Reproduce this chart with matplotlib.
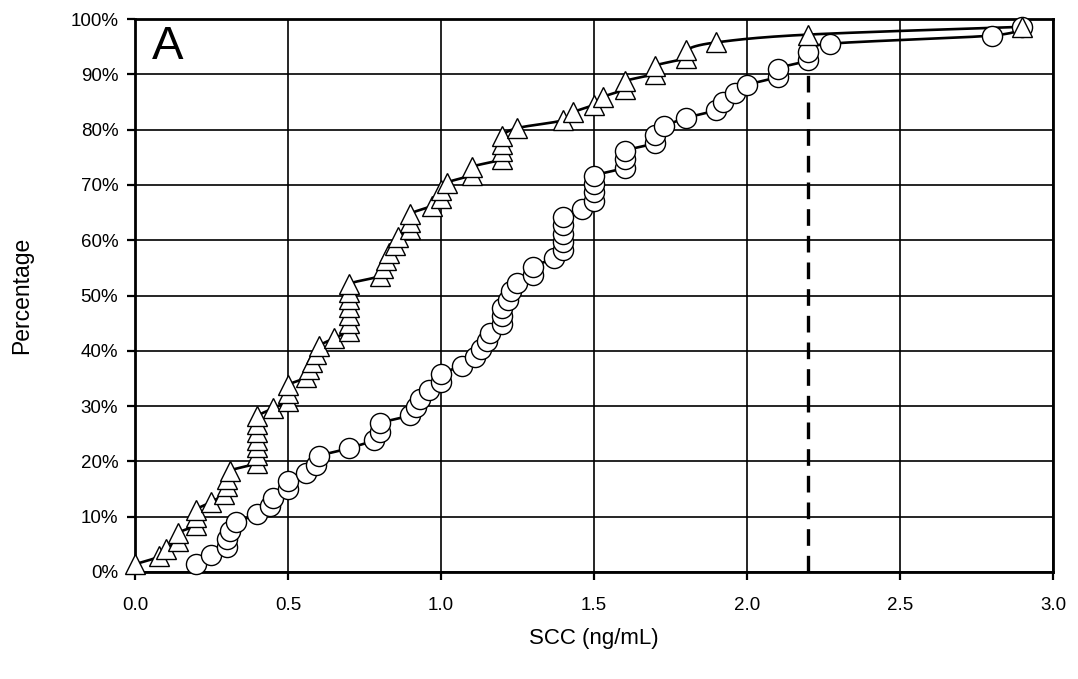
import numpy as np
import matplotlib
matplotlib.use("Agg")
import matplotlib.pyplot as plt
from matplotlib.ticker import FuncFormatter

plt.rcParams['font.family'] = ['Liberation Sans', 'DejaVu Sans']

# SCC values (ng/mL), sorted, for the two groups
tri_x = [0.00, 0.08, 0.10, 0.14, 0.14, 0.20, 0.20, 0.20, 0.25, 0.29, 0.30, 0.30, 0.31,
         0.40, 0.40, 0.40, 0.40, 0.40, 0.40, 0.40, 0.45, 0.50, 0.50, 0.50,
         0.56, 0.57, 0.58, 0.59, 0.60, 0.65, 0.70, 0.70, 0.70, 0.70, 0.70, 0.70, 0.70,
         0.80, 0.81, 0.82, 0.83, 0.85, 0.86, 0.90, 0.90, 0.90, 0.97, 1.00, 1.00, 1.02,
         1.10, 1.10, 1.20, 1.20, 1.20, 1.20, 1.25, 1.40, 1.43, 1.50, 1.53, 1.60, 1.60,
         1.70, 1.70, 1.80, 1.80, 1.90, 2.20, 2.90]
circ_x = [0.20, 0.25, 0.30, 0.30, 0.31, 0.33, 0.40, 0.44, 0.45, 0.50, 0.50, 0.56, 0.59,
          0.60, 0.70, 0.78, 0.80, 0.80, 0.90, 0.92, 0.93, 0.96, 1.00, 1.00, 1.07, 1.11,
          1.13, 1.15, 1.16, 1.20, 1.20, 1.20, 1.22, 1.23, 1.25, 1.30, 1.30, 1.37,
          1.40, 1.40, 1.40, 1.40, 1.40, 1.46, 1.50, 1.50, 1.50, 1.50, 1.60, 1.60, 1.60,
          1.70, 1.70, 1.73, 1.80, 1.90, 1.92, 1.96, 2.00, 2.10, 2.10, 2.20, 2.20, 2.27,
          2.80, 2.90]
cutoff = 2.2
x_ticks = [0.0, 0.5, 1.0, 1.5, 2.0, 2.5, 3.0]
y_ticks = [0, 10, 20, 30, 40, 50, 60, 70, 80, 90, 100]
panel_label = "A"
x_label = "SCC (ng/mL)"
y_label = "Percentage"


def cum_pct(vals):
    # cumulative percentage (rank / (n + 1))
    n = len(vals)
    return 100.0 * np.arange(1, n + 1) / (n + 1)


def smooth(x, y, sx=306.0, sy=5.53, steps=20):
    # Catmull-Rom style Bezier smoothing (like a spreadsheet "smoothed line"),
    # computed in screen-proportional units
    P = np.column_stack([np.asarray(x) * sx, np.asarray(y) * sy])
    n = len(P)
    out = []
    t = np.linspace(0, 1, steps)
    for i in range(n - 1):
        p0 = P[i - 1] if i > 0 else P[i]
        p1 = P[i]
        p2 = P[i + 1]
        p3 = P[i + 2] if i + 2 < n else P[i + 1]
        c1 = p1 + (p2 - p0) / 6.0
        c2 = p2 - (p3 - p1) / 6.0
        seg = ((1 - t) ** 3)[:, None] * p1 + (3 * (1 - t) ** 2 * t)[:, None] * c1 \
            + (3 * (1 - t) * t ** 2)[:, None] * c2 + (t ** 3)[:, None] * p2
        out.append(seg)
    out = np.vstack(out)
    return out[:, 0] / sx, out[:, 1] / sy


fig = plt.figure(figsize=(10.78, 6.79), dpi=100)
ax = fig.add_axes([0.1252, 0.1576, 0.8516, 0.8144])

ax.set_xlim(0, 3.0)
ax.set_ylim(0, 100)

ty = cum_pct(tri_x)
cy = cum_pct(circ_x)

ax.plot([cutoff, cutoff], [0, 97], color='black', lw=2.4, dashes=(5, 3), zorder=2)

sx_t, sy_t = smooth(tri_x, ty)
sx_c, sy_c = smooth(circ_x, cy)
ax.plot(sx_t, sy_t, color='black', lw=1.9, zorder=3, clip_on=False)
ax.plot(sx_c, sy_c, color='black', lw=1.9, zorder=3, clip_on=False)

ax.plot(circ_x, cy, linestyle='none', marker='o', markersize=14.5,
        markerfacecolor='white', markeredgecolor='black', markeredgewidth=1.0,
        zorder=4, clip_on=False)
ax.plot(tri_x, ty, linestyle='none', marker='^', markersize=14.5,
        markerfacecolor='white', markeredgecolor='black', markeredgewidth=1.0,
        zorder=5, clip_on=False)

ax.set_xticks(x_ticks)
ax.set_yticks(y_ticks)
ax.xaxis.set_major_formatter(FuncFormatter(lambda v, p: f"{v:.1f}"))
ax.yaxis.set_major_formatter(FuncFormatter(lambda v, p: f"{v:.0f}%"))
ax.grid(True, color='black', lw=1.2, zorder=1)
ax.set_axisbelow(True)
ax.tick_params(axis='both', direction='out', length=6, width=1.6, labelsize=13.5,
               colors='black')
ax.tick_params(axis='y', pad=6)
ax.tick_params(axis='x', pad=12)
for s in ax.spines.values():
    s.set_linewidth(2.0)
    s.set_color('black')

ax.set_xlabel(x_label, fontsize=16, labelpad=10)
ax.set_ylabel(y_label, fontsize=16.5, labelpad=27)

ax.text(0.018, 0.99, panel_label, transform=ax.transAxes, fontsize=34,
        ha='left', va='top', zorder=6)

fig.savefig("out.png", dpi=100)
